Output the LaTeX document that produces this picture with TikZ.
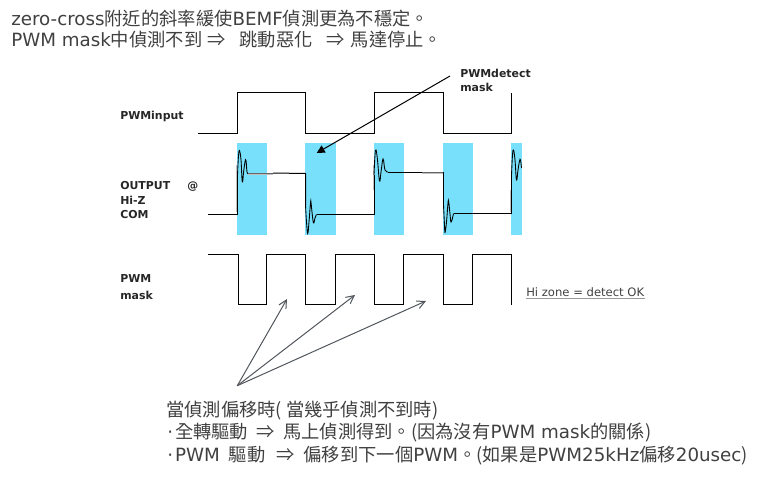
\documentclass[tikz,border=0pt]{standalone}
\usepackage{fontspec}
\setmainfont{DejaVu Sans}
\newfontfamily\cjk{Noto Sans CJK TC}
\newcommand{\cj}[1]{{\cjk #1}}
\newcommand{\gp}[1]{\hspace*{#1\dimexpr0.75pt\relax}}
\definecolor{bluezone}{HTML}{78E0FA}
\definecolor{txtgray}{HTML}{404040}
\definecolor{arrgray}{HTML}{50565C}
\usetikzlibrary{arrows.meta}
\tikzset{
  wave/.style={black,line width=0.75pt,line join=miter},
  ring/.style={black,line width=0.65pt},
  ghost/.style={black!25,line width=1pt},
  fade/.style={black!60,line width=0.75pt},
  zone/.style={fill=bluezone,draw=none},
  lbl/.style={font=\fontsize{8.2pt}{10pt}\bfseries,text=black!85,anchor=base west,inner sep=0pt},
  head/.style={font=\fontsize{13.7pt}{16pt}\selectfont,text=txtgray,anchor=base west,inner sep=0pt},
  pointer/.style={black,line width=0.75pt,-{Triangle[length=6pt,width=6pt]}},
  shift arrow/.style={arrgray,line width=0.75pt,-{Straight Barb[length=6pt,width=6pt]}}
}
\begin{document}
\begin{tikzpicture}[x=0.75pt,y=-0.75pt]
\useasboundingbox (0,0) rectangle (774,485);
% zones
\fill[zone] (237,143) rectangle (267,235);
\fill[zone] (305,143) rectangle (336,235);
\fill[zone] (374,143) rectangle (404,235);
\fill[zone] (443,143) rectangle (473,235);
\fill[zone] (511,143) rectangle (522,235);
% PWM input
\draw[wave] (198,133) -- (237.5,133) -- (237.5,92.5) -- (305.5,92.5) -- (305.5,133) -- (374,133) -- (374,92.5) -- (443,92.5) -- (443,133) -- (511.5,133) -- (511.5,92.5);
% output
\draw[ghost] (236.8,212) -- (236.8,165);
\draw[ghost] (248,174) -- (273,174);
\draw[ghost] (422,173) -- (443,173);
\draw[ghost] (373.4,190) -- (373.4,165);
\draw[ghost] (510.8,212) -- (510.8,190);
\draw[wave] (208,214.5) -- (237.5,214.5) -- (237.5,175);
\draw[ring] plot[smooth,tension=0.7] coordinates {(237.5,175) (238.5,156) (239.5,150.5) (241,160) (242.3,182) (243.6,172) (245,162) (246,160.5) (247,172) (248,173)};
\draw[fade] (248,173) -- (273,173);
\draw[wave] (273,173) -- (305.5,173.5) -- (305.5,205);
\draw[ring] plot[smooth,tension=0.7] coordinates {(305.5,205) (306.5,222) (307.7,233.5) (309,222) (310.5,203) (311,202.5) (312,212) (313.5,223) (315,218) (316.5,214.5)};
\draw[wave] (316.5,214.5) -- (374,214.5) -- (374,175);
\draw[ring] plot[smooth,tension=0.7] coordinates {(374,175) (375,155) (376,150) (377.5,160) (379.5,181) (381,172) (382.5,161) (383.5,160) (385,170) (388,172)};
\draw[wave] (388,172) -- (422,172);
\draw[fade] (422,172) -- (443.5,172);
\draw[wave] (443.5,172) -- (443.5,205);
\draw[ring] plot[smooth,tension=0.7] coordinates {(443.5,205) (444.5,225) (445,232.5) (446.5,222) (448,203) (448.7,202) (450,214) (451,222) (452.5,218) (453.5,213.5)};
\draw[wave] (453.5,213.5) -- (511.5,213.5) -- (511.5,175);
\draw[ring] plot[smooth,tension=0.7] coordinates {(511.5,175) (512.5,155) (513.5,150) (515,160) (516.5,180) (518,170) (519.5,161) (520.5,160) (521.5,168)};
% mask
\draw[wave] (208,254.5) -- (238,254.5) -- (238,304) -- (266.5,304) -- (266.5,254.5) -- (305.5,254.5) -- (305.5,304) -- (335.5,304) -- (335.5,254.5) -- (374,254.5) -- (374,304) -- (403.5,304) -- (403.5,254.5) -- (443.5,254.5) -- (443.5,304) -- (472.5,304) -- (472.5,254.5) -- (511.5,254.5) -- (511.5,304.5);
% texts
\node[head] (t1) at (11,26) {zero-cross\cj{附近的斜率緩使}BEMF\cj{偵測更為不穩定。}};
\node[head] (t2) at (11,47) {PWM mask\cj{中偵測不到}\gp{5}\cj{⇒}\gp{14}\cj{跳動惡化}\gp{14}\cj{⇒}\gp{6}\cj{馬達停止。}};
\node[lbl] (pd) at (460,77.5) {PWMdetect};
\node[lbl] (pm) at (460,92) {mask};
\node[lbl] (pi) at (120,119.5) {PWMinput};
\node[lbl] (o1) at (120,189) {OUTPUT};
\node[lbl] (o1b) at (187,189) {@};
\node[lbl] (o2) at (120,204) {Hi-Z};
\node[lbl] (o3) at (120,218.5) {COM};
\node[lbl] (m1) at (120,282.5) {PWM};
\node[lbl] (m2) at (120,299) {mask};
\node[font=\fontsize{8.7pt}{10pt}\selectfont,text=txtgray,anchor=base west,inner sep=0pt] (hz) at (526,296) {Hi zone = detect OK};
\draw[gray!80,line width=1pt] (525.5,298.5) -- (645,298.5);
\node[head] (b1) at (166,416) {\cj{當偵測偏移時(}\gp{4}\cj{當幾乎偵測不到時)}};
\node[head] (b2) at (167,438) {·\gp{2}\cj{全轉驅動}\gp{8}\cj{⇒}\gp{9}\cj{馬上偵測得到。(因為沒有}PWM mask\cj{的關係)}};
\node[head] (b3) at (167,461) {·\gp{2}PWM\gp{9}\cj{驅動}\gp{11}\cj{⇒}\gp{9}\cj{偏移到下一個}PWM\cj{。(如果是}PWM25kHz\cj{偏移}20usec\cj{)}};
% arrows
\coordinate (pstart) at (450,76);
\coordinate (ptip) at (316.7,153);
\draw[pointer] (pstart) -- (ptip);
\coordinate (fan) at (237.3,385.7);
\coordinate (a1) at (287,299);
\coordinate (a2) at (355,295);
\coordinate (a3) at (426,301);
\draw[shift arrow] (fan) -- (a1);
\draw[shift arrow] (fan) -- (a2);
\draw[shift arrow] (fan) -- (a3);
\end{tikzpicture}
\end{document}
